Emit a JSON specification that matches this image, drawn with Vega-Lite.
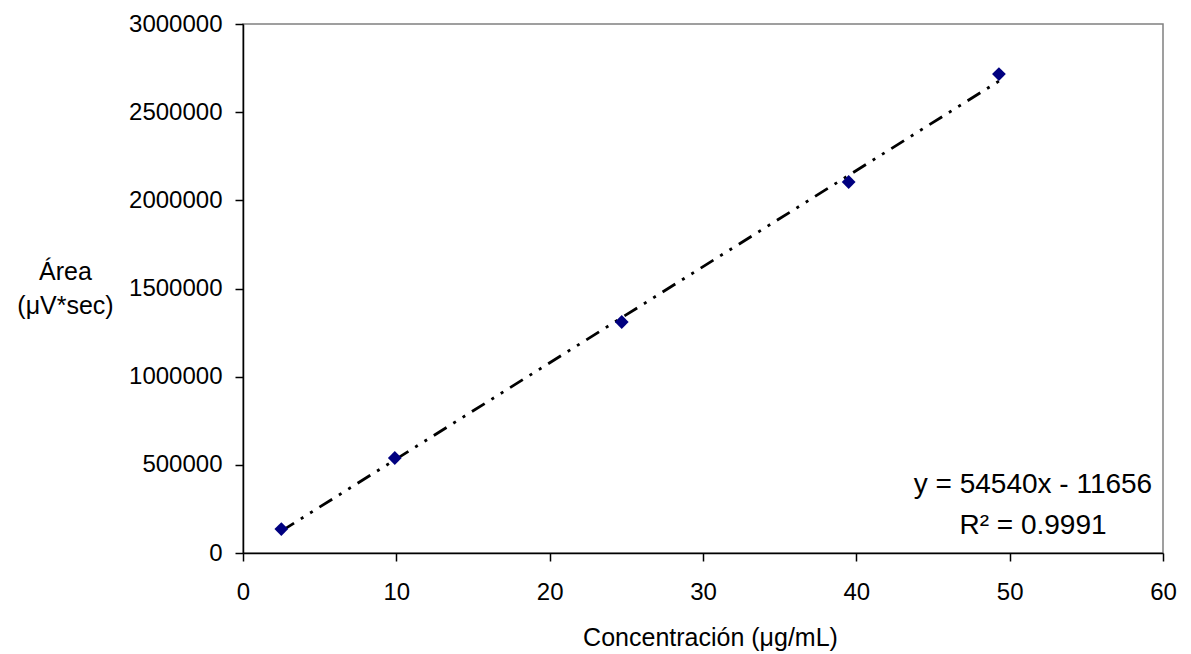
{
  "$schema": "https://vega.github.io/schema/vega-lite/v6.json",
  "width": 920,
  "height": 529,
  "autosize": {"type": "none"},
  "padding": {"left": 243, "top": 24, "right": 28, "bottom": 101},
  "background": "white",
  "config": {
    "font": "Liberation Sans",
    "view": {"stroke": "#808080", "strokeWidth": 1.5},
    "axis": {"grid": false, "domainColor": "#000000", "tickColor": "#000000", "domainWidth": 1.5, "tickWidth": 1.5, "labelColor": "#000000", "titleColor": "#000000", "labelFontWeight": "normal", "titleFontWeight": "normal"}
  },
  "datasets": {
    "points": [
      {"conc": 2.5, "area": 136000},
      {"conc": 9.9, "area": 538700},
      {"conc": 24.7, "area": 1310000},
      {"conc": 39.5, "area": 2104000},
      {"conc": 49.3, "area": 2716000}
    ]
  },
  "layer": [
    {
      "data": {"name": "points"},
      "transform": [{"regression": "area", "on": "conc", "method": "linear"}],
      "mark": {"type": "line", "color": "#000000", "strokeWidth": 2.8, "strokeDash": [15, 8, 3, 8, 3, 8]},
      "encoding": {
        "x": {"field": "conc", "type": "quantitative"},
        "y": {"field": "area", "type": "quantitative"}
      }
    },
    {
      "data": {"name": "points"},
      "mark": {"type": "point", "shape": "diamond", "filled": true, "color": "#000080", "size": 190, "opacity": 1},
      "encoding": {
        "x": {
          "field": "conc", "type": "quantitative",
          "scale": {"domain": [0, 60], "nice": false, "zero": true},
          "axis": {
            "values": [0, 10, 20, 30, 40, 50, 60],
            "title": "Concentración (μg/mL)",
            "titleFontSize": 25,
            "titleX": 467,
            "titleY": 92,
            "titleBaseline": "alphabetic",
            "labelFontSize": 24,
            "labelBaseline": "alphabetic",
            "tickSize": 8,
            "labelPadding": 38,
            "labelFlush": false
          }
        },
        "y": {
          "field": "area", "type": "quantitative",
          "scale": {"domain": [0, 3000000], "nice": false},
          "axis": {
            "values": [0, 500000, 1000000, 1500000, 2000000, 2500000, 3000000],
            "format": "d",
            "title": ["Área", "(μV*sec)"],
            "titleAngle": 0,
            "titleAlign": "center",
            "titleBaseline": "alphabetic",
            "titleX": -178,
            "titleY": 255,
            "titleFontSize": 25,
            "titleLineHeight": 34,
            "labelFontSize": 24,
            "tickSize": 8,
            "labelPadding": 13,
            "labelFlush": false
          }
        }
      }
    },
    {
      "data": {"values": [{}]},
      "mark": {"type": "text", "align": "center", "baseline": "alphabetic", "fontSize": 28, "lineHeight": 41, "color": "#000000"},
      "encoding": {
        "x": {"datum": 51.52, "type": "quantitative"},
        "y": {"datum": 340000, "type": "quantitative"},
        "text": {"value": ["y = 54540x - 11656", "R² = 0.9991"]}
      }
    }
  ]
}
